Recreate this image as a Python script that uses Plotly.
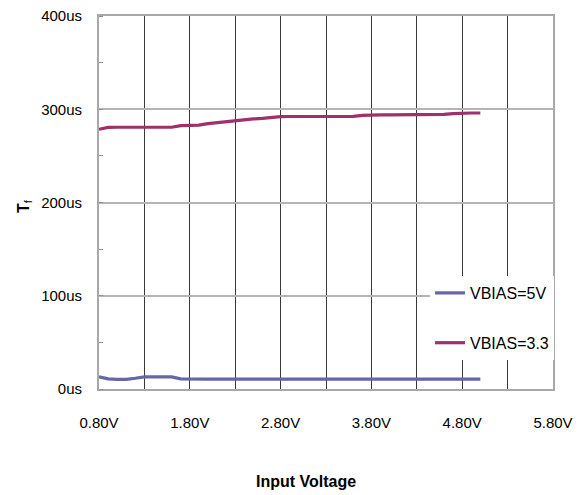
import plotly.graph_objects as go

# ---- data ----
input_voltage = [0.8, 0.9, 1.0, 1.1, 1.2, 1.3, 1.4, 1.5, 1.6, 1.7, 1.8, 1.9, 2.0, 2.1, 2.2,
                 2.3, 2.4, 2.5, 2.6, 2.7, 2.8, 2.9, 3.0, 3.1, 3.2, 3.3, 3.4, 3.5, 3.6, 3.7,
                 3.8, 3.9, 4.0, 4.1, 4.2, 4.3, 4.4, 4.5, 4.6, 4.7, 4.8, 4.9, 5.0]
tf_vbias_5v = [13.0, 10.8, 10.3, 10.3, 11.5, 13.0, 13.0, 13.0, 13.0, 10.8, 10.5, 10.5, 10.5,
               10.5, 10.5, 10.5, 10.5, 10.5, 10.5, 10.5, 10.5, 10.5, 10.5, 10.5, 10.5, 10.5,
               10.5, 10.5, 10.5, 10.5, 10.5, 10.5, 10.5, 10.5, 10.5, 10.5, 10.5, 10.5, 10.5,
               10.5, 10.5, 10.5, 10.5]
tf_vbias_3v3 = [278.5, 280.6, 280.7, 280.7, 280.7, 280.7, 280.7, 280.7, 280.7, 282.4, 282.6,
                283.0, 284.5, 285.6, 286.8, 288.0, 288.8, 289.6, 290.2, 291.2, 292.0, 292.2,
                292.2, 292.2, 292.2, 292.2, 292.2, 292.2, 292.3, 293.5, 294.0, 294.0, 294.0,
                294.0, 294.0, 294.0, 294.0, 294.1, 294.6, 295.3, 295.9, 296.0, 296.0]
series_names = ["VBIAS=5V", "VBIAS=3.3"]
x_tick_vals = [0.8, 1.8, 2.8, 3.8, 4.8, 5.8]
x_tick_text = ["0.80V", "1.80V", "2.80V", "3.80V", "4.80V", "5.80V"]
y_tick_vals = [0, 100, 200, 300, 400]
y_tick_text = ["0us", "100us", "200us", "300us", "400us"]

FONT = "Liberation Sans, Arial, sans-serif"
W, H = 581, 495
ML, MR, MT, MB = 99, 28, 16, 106
PW, PH = W - ML - MR, H - MT - MB


def px_to_paper(px, py):
    return (px - ML) / PW, (H - MB - py) / PH


fig = go.Figure()
fig.add_trace(go.Scatter(x=input_voltage, y=tf_vbias_5v, mode="lines", name=series_names[0],
                         legendgroup="a",
                         line=dict(color="#6466a6", width=3.2)))
fig.add_trace(go.Scatter(x=input_voltage, y=tf_vbias_3v3, mode="lines", name=series_names[1],
                         legendgroup="b",
                         line=dict(color="#a0306a", width=3.2)))

xt_x, xt_y = px_to_paper(306, 481)
yt_x, yt_y = px_to_paper(24, 206)
lg_x, lg_y = px_to_paper(430, 276)

fig.update_layout(
    width=W, height=H,
    margin=dict(l=ML, r=MR, t=MT, b=MB, autoexpand=False),
    paper_bgcolor="white", plot_bgcolor="white",
    font=dict(family=FONT, size=15, color="black"),
    showlegend=True,
    legend=dict(x=lg_x, y=lg_y, xanchor="left", yanchor="top",
                bgcolor="white", borderwidth=0, tracegroupgap=26,
                font=dict(family=FONT, size=16, color="black"),
                itemwidth=30),
    xaxis=dict(range=[0.8, 5.8], tickmode="array", tickvals=x_tick_vals, ticktext=x_tick_text,
               showgrid=True, gridcolor="#3a3a3a", gridwidth=1,
               showline=True, linecolor="#a8a8a8", linewidth=2, mirror=True,
               ticks="", ticklabelstandoff=19, zeroline=False, automargin=False,
               tickfont=dict(family=FONT, size=15, color="black"),
               minor=dict(tick0=0.8, dtick=0.5, showgrid=True, gridcolor="#3a3a3a",
                          gridwidth=1, ticks="")),
    yaxis=dict(range=[0, 400], tickmode="array", tickvals=y_tick_vals, ticktext=y_tick_text,
               showgrid=True, gridcolor="#b4b4b4", gridwidth=1.5,
               showline=True, linecolor="#a8a8a8", linewidth=2, mirror=True,
               ticks="", ticklabelstandoff=12, zeroline=False, automargin=False,
               tickfont=dict(family=FONT, size=15, color="black"),
               minor=dict(dtick=50, ticks="inside", ticklen=4, tickcolor="#909090",
                          showgrid=False)),
    annotations=[
        dict(text="<b>Input Voltage</b>", x=xt_x, y=xt_y, xref="paper", yref="paper",
             xanchor="center", yanchor="middle",
             showarrow=False, font=dict(family=FONT, size=16, color="black")),
        dict(text="<b>T</b><sub>f</sub>", x=yt_x, y=yt_y, xref="paper", yref="paper",
             xanchor="center", yanchor="middle",
             showarrow=False, textangle=-90, font=dict(family=FONT, size=16, color="black")),
    ],
)

fig.write_html("out.html", config={"displayModeBar": False},
               post_script="document.body.style.margin='0';document.body.style.padding='0';")
